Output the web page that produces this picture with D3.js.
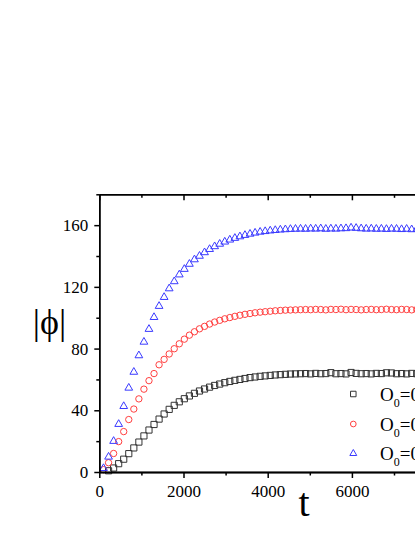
<!DOCTYPE html>
<html>
<head>
<meta charset="utf-8">
<script src="https://cdn.jsdelivr.net/npm/d3@7"></script>
<style>
  body { margin: 0; background: #fff; }
  svg { display: block; }
</style>
</head>
<body>
<div id="chart"></div>
<script>
// time axis, same for all three runs
const times = [
  100, 220, 340, 460, 580, 700, 820, 940, 1060, 1180,
  1300, 1420, 1540, 1660, 1780, 1900, 2020, 2140, 2260, 2380,
  2500, 2620, 2740, 2860, 2980, 3100, 3220, 3340, 3460, 3580,
  3700, 3820, 3940, 4060, 4180, 4300, 4420, 4540, 4660, 4780,
  4900, 5020, 5140, 5260, 5380, 5500, 5620, 5740, 5860, 5980,
  6100, 6220, 6340, 6460, 6580, 6700, 6820, 6940, 7060, 7180,
  7300, 7420, 7540, 7660, 7780, 7900
];

const phiSquare = [
  null, 0.8, 2.6, 5.4, 8.3, 11.9, 15.6, 19.4, 23.4, 27.2,
  30.8, 34.3, 37.6, 40.6, 43.2, 45.5, 47.5, 49.3, 51.0, 52.5,
  53.8, 55.0, 56.1, 57.0, 57.9, 58.7, 59.4, 60.0, 60.6, 61.2,
  61.6, 62.0, 62.3, 62.6, 62.9, 63.1, 63.3, 63.5, 63.6, 63.7,
  63.8, 63.6, 63.9, 63.7, 63.8, 64.4, 63.7, 63.8, 63.6, 64.5,
  63.9, 63.7, 63.8, 63.6, 63.9, 63.8, 64.3, 64.2, 63.7, 63.8,
  63.6, 63.9, 63.7, 63.8, 63.9, 63.7
];

const phiCircle = [
  1.5, 6.0, 12.0, 19.7, 26.2, 34.0, 40.8, 47.4, 53.7, 59.2,
  63.8, 69.5, 73.0, 76.5, 79.9, 83.1, 86.1, 88.7, 90.9, 92.8,
  94.4, 95.9, 97.2, 98.3, 99.3, 100.1, 100.9, 101.6, 102.2, 102.7,
  103.2, 103.6, 103.9, 104.2, 104.5, 104.7, 104.9, 105.0, 105.1, 105.2,
  105.3, 105.2, 105.4, 105.3, 105.1, 105.4, 105.3, 105.5, 105.2, 105.4,
  105.3, 105.1, 105.3, 105.4, 105.2, 105.3, 105.5, 105.3, 105.2, 105.4,
  105.3, 105.1, 105.3, 105.4, 105.2, 105.3
];

const phiTriangle = [
  2.4, 9.8, 20.0, 31.0, 42.6, 54.5, 64.8, 75.5, 84.3, 92.6,
  100.3, 107.5, 113.3, 118.9, 123.5, 127.9, 131.5, 134.8, 137.7, 140.0,
  142.3, 144.4, 146.2, 147.8, 149.2, 150.5, 151.6, 152.6, 153.5, 154.3,
  155.0, 155.6, 156.0, 156.4, 156.7, 157.0, 157.2, 157.4, 157.5, 157.6,
  157.5, 157.7, 157.6, 157.8, 157.5, 157.7, 157.6, 157.8, 157.9, 158.3,
  158.1, 157.8, 157.6, 157.7, 157.5, 157.6, 157.4, 157.6, 157.5, 157.3,
  157.5, 157.2, 157.4, 157.3, 157.5, 157.4
];

const seriesNames = ["O\u2080=0.1", "O\u2080=0.2", "O\u2080=0.3"];
const xMajor = [0, 2000, 4000, 6000, 8000];
const xLabeled = [0, 2000, 4000, 6000];
const xMinor = [1000, 3000, 5000, 7000];
const yMajor = [0, 40, 80, 120, 160];
const yMinor = [20, 60, 100, 140, 180];

const W = 415, H = 537;
const mLeft = 99.3, mTop = 194.3, plotW = 336.8, plotH = 277.7;
const serif = "'Liberation Serif', 'Times New Roman', serif";

const svg = d3.select("#chart").append("svg")
  .attr("width", W).attr("height", H);
svg.append("rect").attr("width", W).attr("height", H).attr("fill", "#fff");

const x = d3.scaleLinear().domain([0, 8000]).range([mLeft, mLeft + plotW]);
const y = d3.scaleLinear().domain([0, 180]).range([mTop + plotH, mTop]);

const series = [
  { name: seriesNames[0], values: phiSquare, shape: d3.symbolSquare, size: 38, color: "#333" },
  { name: seriesNames[1], values: phiCircle, shape: d3.symbolCircle, size: 32, color: "#ff4040" },
  { name: seriesNames[2], values: phiTriangle, shape: d3.symbolTriangle, size: 26, color: "#3a3aff" }
];

// data markers
series.forEach(function (s) {
  const pts = times.map((t, i) => ({ t: t, v: s.values[i] })).filter(d => d.v != null);
  svg.append("g").selectAll("path").data(pts).join("path")
    .attr("transform", d => "translate(" + x(d.t) + "," + y(d.v) + ")")
    .attr("d", d3.symbol().type(s.shape).size(s.size))
    .attr("fill", "none")
    .attr("stroke", s.color)
    .attr("stroke-width", 1);
});

function styleAxis(g) {
  g.select(".domain").attr("stroke", "#000").attr("stroke-width", 1.5);
  g.selectAll(".tick line").attr("stroke", "#000").attr("stroke-width", 1.5);
  g.selectAll("text").style("font-family", serif).style("font-size", "17px").attr("fill", "#000");
}

// bottom
svg.append("g").attr("transform", "translate(0," + (mTop + plotH) + ")")
  .call(d3.axisBottom(x).tickValues(xMajor).tickFormat("").tickSize(6).tickSizeOuter(0))
  .call(styleAxis);
svg.append("g").attr("transform", "translate(0," + (mTop + plotH) + ")")
  .call(d3.axisBottom(x).tickValues(xLabeled).tickFormat(d3.format("d")).tickSize(0).tickSizeOuter(0).tickPadding(13))
  .call(styleAxis);
svg.append("g").attr("transform", "translate(0," + (mTop + plotH) + ")")
  .call(d3.axisBottom(x).tickValues(xMinor).tickFormat("").tickSize(3.5).tickSizeOuter(0))
  .call(styleAxis);
// top
svg.append("g").attr("transform", "translate(0," + mTop + ")")
  .call(d3.axisTop(x).tickValues(xMajor).tickFormat("").tickSize(-6).tickSizeOuter(0))
  .call(styleAxis);
svg.append("g").attr("transform", "translate(0," + mTop + ")")
  .call(d3.axisTop(x).tickValues(xMinor).tickFormat("").tickSize(-3.5).tickSizeOuter(0))
  .call(styleAxis);
// left
svg.append("g").attr("transform", "translate(" + mLeft + ",0)")
  .call(d3.axisLeft(y).tickValues(yMajor).tickSize(5).tickSizeOuter(0).tickPadding(6))
  .call(styleAxis);
svg.append("g").attr("transform", "translate(" + mLeft + ",0)")
  .call(d3.axisLeft(y).tickValues(yMinor).tickFormat("").tickSize(3).tickSizeOuter(0))
  .call(styleAxis);
// right
svg.append("g").attr("transform", "translate(" + (mLeft + plotW) + ",0)")
  .call(d3.axisRight(y).tickValues(yMajor).tickFormat("").tickSize(-5).tickSizeOuter(0))
  .call(styleAxis);

// axis titles
svg.append("text").attr("x", 304).attr("y", 516)
  .attr("text-anchor", "middle").style("font-family", serif).style("font-size", "40px")
  .text("t");
svg.append("text").attr("x", 49.5).attr("y", 334)
  .attr("text-anchor", "middle").style("font-family", serif).style("font-size", "36px")
  .text("|\u03d5|");

// legend
const legend = svg.append("g");
const legendY = [394, 424, 453.5];
series.forEach(function (s, i) {
  legend.append("path")
    .attr("transform", "translate(353.3," + legendY[i] + ")")
    .attr("d", d3.symbol().type(s.shape).size(s.size * 0.8))
    .attr("fill", "none").attr("stroke", s.color).attr("stroke-width", 1);
  const parts = s.name.split("\u2080");
  const txt = legend.append("text")
    .attr("x", 380).attr("y", legendY[i] + 6.5)
    .style("font-family", serif).style("font-size", "19px").attr("fill", "#000");
  txt.append("tspan").text(parts[0]);
  txt.append("tspan").style("font-size", "12px").attr("dy", 6).text("0");
  txt.append("tspan").attr("dy", -6).text(parts[1]);
});
</script>
</body>
</html>
